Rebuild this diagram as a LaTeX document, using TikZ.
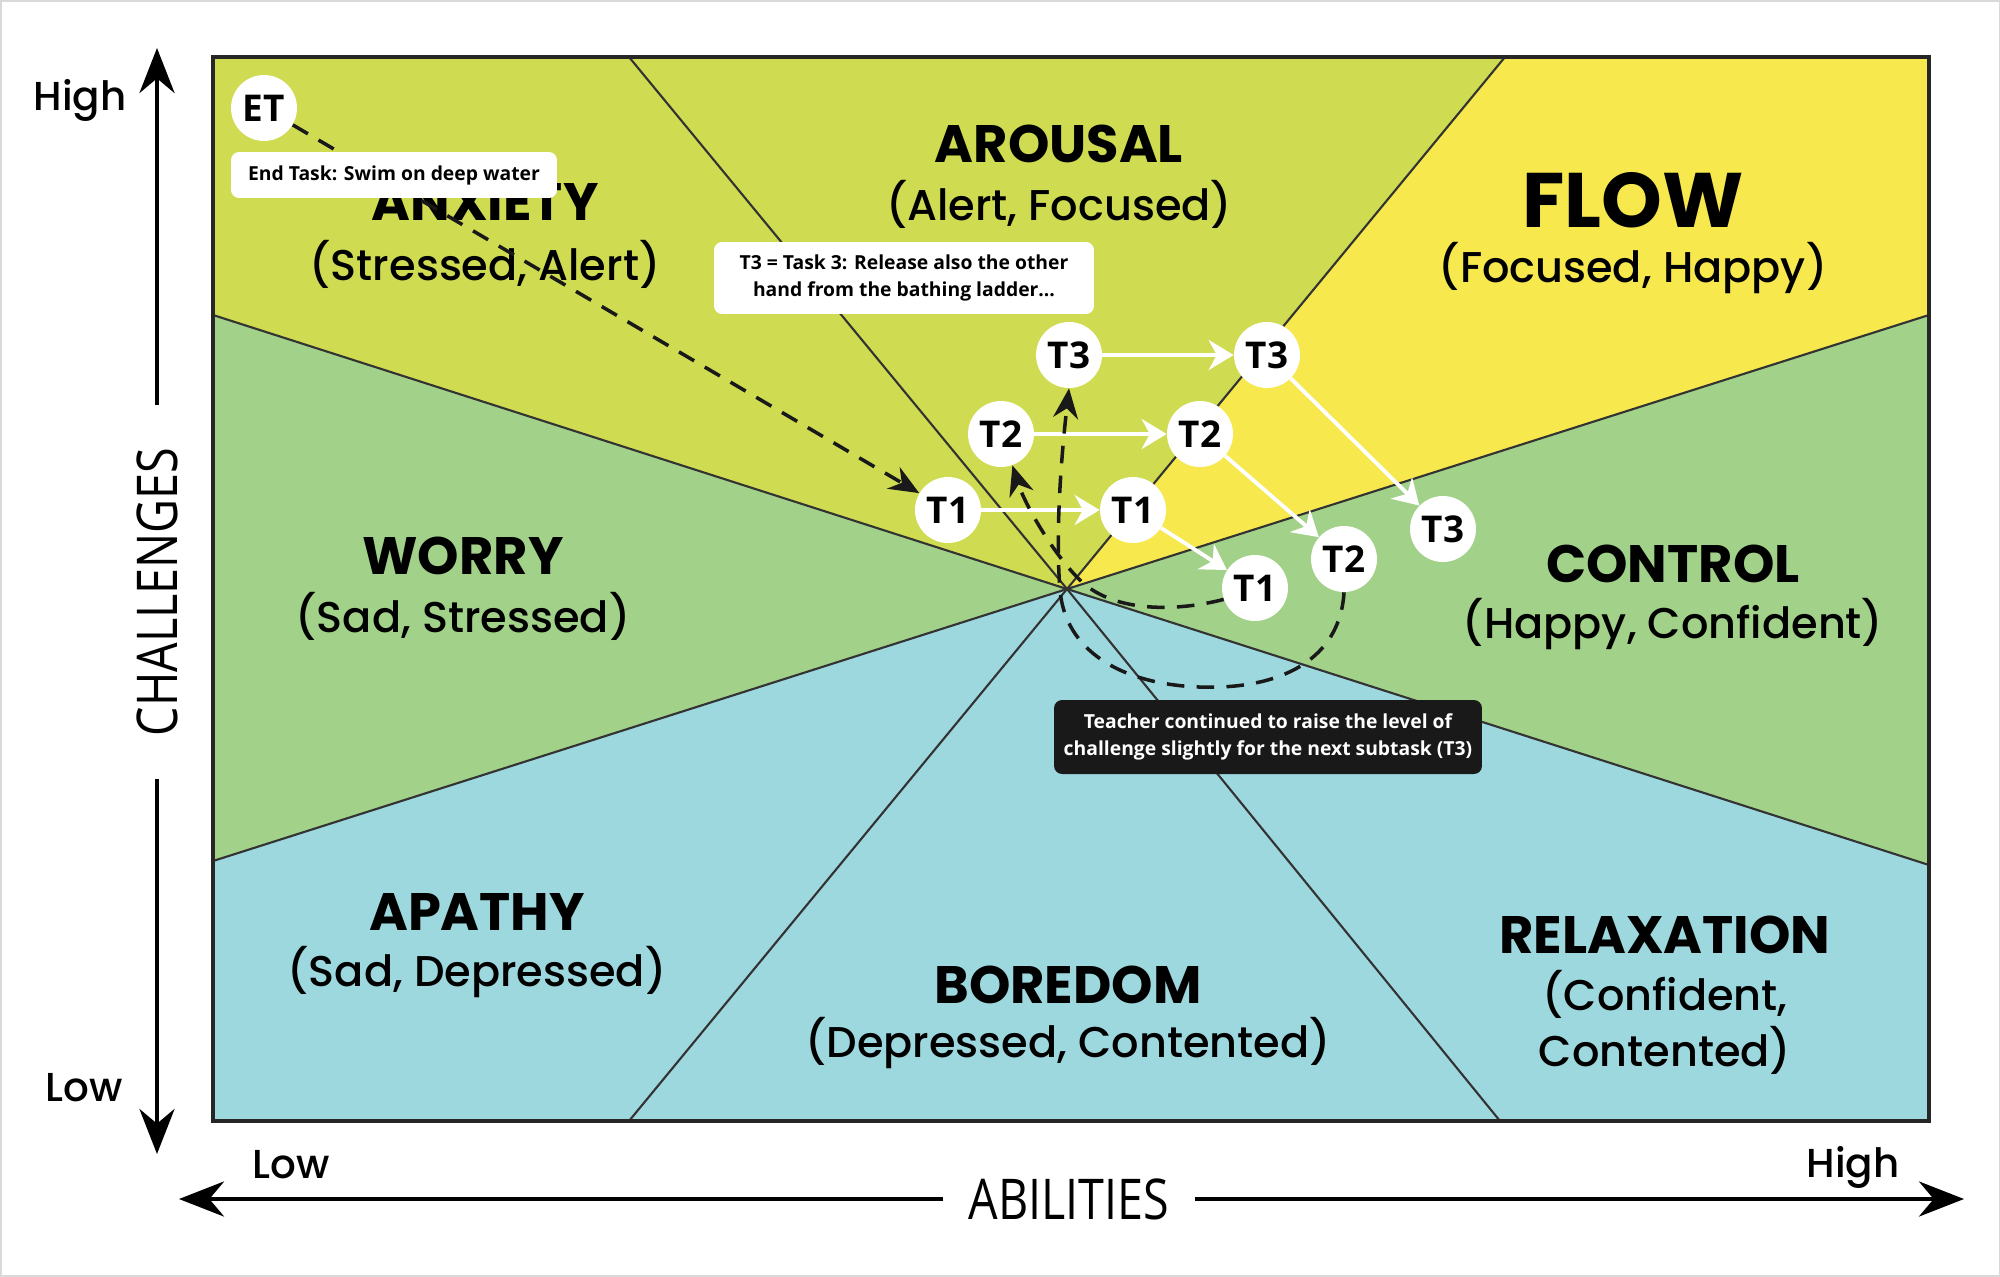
\documentclass[tikz,border=0pt]{standalone}
\usepackage{fontspec}
\setmainfont{Poppins}
\newfontfamily\moodfont{Poppins Medium}
\newfontfamily\labelfont{Open Sans}
\newfontfamily\axisfont[FakeStretch=0.83]{Open Sans}
\usepackage{tikz}
\usetikzlibrary{arrows.meta, positioning}
\definecolor{zoneyg}{RGB}{207,219,80}
\definecolor{zoneyellow}{RGB}{246,232,77}
\definecolor{zonegreen}{RGB}{162,209,137}
\definecolor{zoneblue}{RGB}{157,216,223}

\begin{document}
\begin{tikzpicture}[x=0.02cm, y=-0.02cm,
    zoneline/.style={black!80, line width=1.2pt},
    frameline/.style={black!85, line width=2.2pt},
    zonetitle/.style={font=\fontsize{30}{34}\selectfont\bfseries},
    zonemood/.style={font=\moodfont\fontsize{24.5}{32}\selectfont, align=center},
    axisname/.style={font=\axisfont\fontsize{32}{32}\selectfont},
    axistext/.style={font=\moodfont\fontsize{23}{23}\selectfont},
    axisline/.style={line width=2.6pt, -{Stealth[length=0.9cm, width=0.7cm]}},
    tasknode/.style={circle, fill=white, minimum size=1.32cm, inner sep=0pt, font=\labelfont\fontsize{21}{21}\selectfont\bfseries},
    stepline/.style={white, line width=2.2pt, -{Stealth[length=0.5cm, width=0.6cm]}},
    dashline/.style={black!90, line width=2pt, dash pattern=on 10pt off 7pt, -{Stealth[length=0.6cm, width=0.5cm]}},
    notebox/.style={rounded corners=0.16cm, fill=white, align=center, font=\labelfont\fontsize{11}{15}\selectfont\bfseries}
]
    \useasboundingbox (0,0) rectangle (2000,1277);
    \draw[black!15, line width=0.6pt] (1,1) rectangle (1999,1276); % khung ngoai

    % Tâm và các vùng màu
    \coordinate (c) at (1067,589);
    \fill[zoneyg] (c) -- (213,315) -- (213,57) -- (629,57) -- cycle; % anxiety
    \fill[zoneyg] (c) -- (629,57) -- (1505,57) -- cycle; % arousal
    \fill[zoneyellow] (c) -- (1505,57) -- (1929,57) -- (1929,315) -- cycle; % flow
    \fill[zonegreen] (c) -- (1929,315) -- (1929,865) -- cycle; % control
    \fill[zoneblue] (c) -- (1929,865) -- (1929,1121) -- (1500,1121) -- cycle; % relaxation
    \fill[zoneblue] (c) -- (1500,1121) -- (629,1121) -- cycle; % boredom
    \fill[zoneblue] (c) -- (629,1121) -- (213,1121) -- (213,861) -- cycle; % apathy
    \fill[zonegreen] (c) -- (213,861) -- (213,315) -- cycle; % worry
    \foreach \p in {(213,315),(629,57),(1505,57),(1929,315),(1929,865),(1500,1121),(629,1121),(213,861)}
        \draw[zoneline] (c) -- \p;
    \draw[frameline] (213,57) rectangle (1929,1121);

    % Tên các vùng
    \node[zonetitle] (anxiety) at (485,202) {ANXIETY};
    \node[zonemood] (anxietym) at (485,264) {(Stressed, Alert)};
    \node[zonetitle] (arousal) at (1059,144) {AROUSAL};
    \node[zonemood] (arousalm) at (1059,204) {(Alert, Focused)};
    \node[zonetitle, font=\fontsize{44}{48}\selectfont\bfseries] (flow) at (1633,200) {FLOW};
    \node[zonemood] (flowm) at (1633,268) {(Focused, Happy)};
    \node[zonetitle] (worry) at (463,556) {WORRY};
    \node[zonemood] (worrym) at (463,616) {(Sad, Stressed)};
    \node[zonetitle] (control) at (1673,564) {CONTROL};
    \node[zonemood] (controlm) at (1673,624) {(Happy, Confident)};
    \node[zonetitle] (apathy) at (477,912) {APATHY};
    \node[zonemood] (apathym) at (477,972) {(Sad, Depressed)};
    \node[zonetitle] (boredom) at (1068,985) {BOREDOM};
    \node[zonemood] (boredomm) at (1068,1043) {(Depressed, Contented)};
    \node[zonetitle] (relax) at (1665,935) {RELAXATION};
    \node[zonemood] (relaxm) at (1665,1022) {(Confident,\\Contented)};

    % Trục challenges
    \node[axisname, rotate=90, inner xsep=0.85cm] (chal) at (157,592) {CHALLENGES};
    \coordinate (ytop) at (157,48);
    \coordinate (ybot) at (157,1154);
    \draw[axisline] (chal) -- (ytop);
    \draw[axisline] (chal) -- (ybot);
    \node[axistext] (yhigh) at (80,100) {High};
    \node[axistext] (ylow) at (84,1088) {Low};

    % Trục abilities
    \node[axisname, inner xsep=0.5cm] (abil) at (1069,1199) {ABILITIES};
    \coordinate (xleft) at (179,1199);
    \coordinate (xright) at (1964,1199);
    \draw[axisline] (abil) -- (xleft);
    \draw[axisline] (abil) -- (xright);
    \node[axistext] (xlow) at (291,1165) {Low};
    \node[axistext] (xhigh) at (1853,1167) {High};

    % Các nhiệm vụ
    \node[tasknode] (et) at (264,108) {ET};
    \node[tasknode] (t1a) at (948,510) {T1};
    \node[tasknode] (t2a) at (1001,434) {T2};
    \node[tasknode] (t3a) at (1069,355) {T3};
    \node[tasknode] (t1b) at (1133,510) {T1};
    \node[tasknode] (t2b) at (1200,434) {T2};
    \node[tasknode] (t3b) at (1267,355) {T3};
    \node[tasknode] (t1c) at (1255,588) {T1};
    \node[tasknode] (t2c) at (1344,559) {T2};
    \node[tasknode] (t3c) at (1443,529) {T3};

    % Mũi tên trắng
    \draw[stepline] (t1a) -- (t1b);
    \draw[stepline] (t2a) -- (t2b);
    \draw[stepline] (t3a) -- (t3b);
    \draw[stepline] (t1b) -- (t1c);
    \draw[stepline] (t2b) -- (t2c);
    \draw[stepline] (t3b) -- (t3c);

    % Mũi tên nét đứt
    \draw[dashline] (et) -- (t1a);
    \draw[dashline] (t1c.200) .. controls (1175,612) and (1115,612) .. (1082,582)
        .. controls (1055,557) and (1025,505) .. (t2a.-70);
    \draw[dashline] (t2c.south) .. controls (1340,660) and (1280,690) .. (1199,687)
        .. controls (1120,684) and (1065,650) .. (1060,590)
        .. controls (1055,530) and (1062,450) .. (t3a.south);

    % Ghi chú
    \node[notebox, minimum width=6.52cm, minimum height=0.92cm] (endnote) at (394,175) {End Task: Swim on deep water};
    \node[notebox, minimum width=7.6cm, minimum height=1.44cm] (t3note) at (904,278) {T3 = Task 3: Release also the other\\hand from the bathing ladder...};
    \node[notebox, fill=black!90, text=white, minimum width=8.56cm, minimum height=1.48cm] (teachnote) at (1268,737) {Teacher continued to raise the level of\\challenge slightly for the next subtask (T3)};
\end{tikzpicture}
\end{document}
